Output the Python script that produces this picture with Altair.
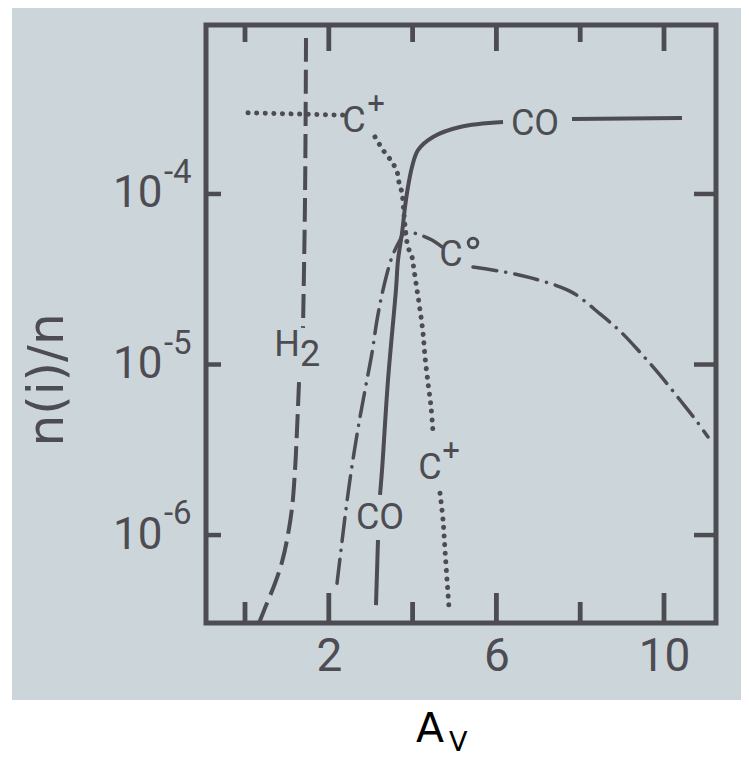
import altair as alt
import pandas as pd

# ---------------- data (A_V, fractional abundance n(i)/n) ----------------
# H2 (dashed), split around its label
h2_av_a = [1.456, 1.432, 1.384]
h2_n_a = [8.22e-4, 9.23e-5, 1.64e-5]
h2_av_b = [1.289, 1.241, 1.193, 1.122, 1.002, 0.883, 0.716, 0.477, 0.334]
h2_n_b = [7.89e-6, 4.13e-6, 2.40e-6, 1.44e-6, 9.35e-7, 6.95e-7, 5.22e-7, 3.73e-7, 3.05e-7]

# CO (solid)
co_av_a = [3.126, 3.174]
co_n_a = [3.88e-7, 9.35e-7]
co_av_b = [3.222, 3.270, 3.413, 3.604, 3.652, 3.747, 3.819, 3.890, 3.986, 4.129, 4.487, 5.131, 6.158]
co_n_b = [1.72e-6, 2.40e-6, 8.11e-6, 2.77e-5, 4.10e-5, 5.90e-5, 8.39e-5, 1.10e-4, 1.44e-4, 1.81e-4,
          2.16e-4, 2.47e-4, 2.64e-4]
co_av_c = [7.804, 10.430]
co_n_c = [2.75e-4, 2.79e-4]

# C+ (dotted)
cp_av_a = [0.072, 2.339]
cp_n_a = [2.99e-4, 2.90e-4]
cp_av_b = [3.103, 3.294, 3.508, 3.628, 3.675, 3.747, 3.795, 3.842, 3.890, 3.986, 4.033, 4.105,
           4.177, 4.248, 4.296, 4.368, 4.439, 4.487]
cp_n_b = [2.16e-4, 1.81e-4, 1.54e-4, 1.35e-4, 1.17e-4, 1.01e-4, 7.53e-5, 5.75e-5, 4.89e-5, 4.27e-5,
          3.58e-5, 2.74e-5, 2.09e-5, 1.53e-5, 1.11e-5, 7.78e-6, 5.64e-6, 3.96e-6]
cp_av_c = [4.654, 4.726, 4.773, 4.821, 4.869]
cp_n_c = [1.76e-6, 1.22e-6, 8.17e-7, 5.45e-7, 3.73e-7]

# C0 (dash-dot)
c0_av_a = [2.196, 2.291, 2.387, 2.494, 2.613, 2.745, 2.888, 3.031, 3.150, 3.294, 3.508, 3.699,
           3.819, 4.177, 4.463, 4.702]
c0_n_a = [5.22e-7, 8.17e-7, 1.28e-6, 2.02e-6, 3.15e-6, 4.92e-6, 7.59e-6, 1.17e-5, 1.82e-5, 2.74e-5,
          4.27e-5, 5.37e-5, 5.98e-5, 5.75e-5, 5.37e-5, 4.89e-5]
c0_av_b = [5.442, 6.325, 6.850, 7.518, 7.876, 8.473, 8.950, 9.427, 9.905, 10.382, 10.740, 11.050]
c0_n_b = [3.73e-5, 3.44e-5, 3.21e-5, 2.85e-5, 2.59e-5, 1.98e-5, 1.57e-5, 1.18e-5, 8.67e-6, 6.19e-6,
          4.79e-6, 3.76e-6]

# curve labels (A_V, n)
lab_text = ["C", "CO", "C", "C", "CO", "H", "2"]
lab_av = [2.601, 6.921, 4.916, 4.415, 3.222, 1.002, 1.551]
lab_n = [2.68e-4, 2.58e-4, 4.39e-5, 2.47e-6, 1.26e-6, 1.30e-5, 1.14e-5]
plus_av = [3.126, 4.916]
plus_n = [3.37e-4, 3.11e-6]
deg_av = [5.442]
deg_n = [5.16e-5]

# axes
x_major = [2, 6, 10]
x_minor = [0, 4, 8]
y_ticks = [1e-4, 1e-5, 1e-6]
y_exp = ["-4", "-5", "-6"]
x_domain = [-0.931, 11.241]
y_domain = [3.05e-7, 9.79e-4]

# ---------------- styling ----------------
INK = "#4c4c52"
BG = "#ccd6da"
FONT = "Roboto, sans-serif"
W, H = 510, 598
HALF_TICK = 2.4 * (x_domain[1] - x_domain[0]) / W   # half tick width in A_V units


def segs(*pairs):
    rows = []
    for s, (avs, ns) in enumerate(pairs):
        for i, (a, n) in enumerate(zip(avs, ns)):
            rows.append({"seg": s, "i": i, "av": a, "n": n})
    return pd.DataFrame(rows)


xs = alt.Scale(domain=x_domain, nice=False, zero=False)
ys = alt.Scale(type="log", domain=y_domain, nice=False)
xaxis = alt.Axis(values=x_major, ticks=False, domain=False, grid=False, labelFontSize=46,
                 labelColor=INK, labelFont=FONT, labelPadding=11, title=None)
yaxis = alt.Axis(values=y_ticks, labelExpr="'10'", ticks=False, domain=False, grid=False,
                 labelFontSize=44, labelColor=INK, labelFont=FONT, labelPadding=44, title=None)


def X(f="av:Q"):
    return alt.X(f, scale=xs, axis=xaxis)


def Y(f="n:Q"):
    return alt.Y(f, scale=ys, axis=yaxis)


one = pd.DataFrame({"k": [0]})
# white paper below and left of the photographed figure
white_b = alt.Chart(one).mark_rect(color="white").encode(
    x=alt.value(-200), x2=alt.value(W + 30), y=alt.value(675), y2=alt.value(H + 140))
white_l = alt.Chart(one).mark_rect(color="white").encode(
    x=alt.value(-200), x2=alt.value(-194), y=alt.value(-20), y2=alt.value(H + 140))


def line(df, **kw):
    return alt.Chart(df).mark_line(color=INK, interpolate="catmull-rom", **kw).encode(
        x=X(), y=Y(), detail="seg:N", order="i:Q")


h2 = line(segs((h2_av_a, h2_n_a), (h2_av_b, h2_n_b)), strokeWidth=4, strokeDash=[24, 8])
co = line(segs((co_av_a, co_n_a), (co_av_b, co_n_b), (co_av_c, co_n_c)), strokeWidth=4)
cp = line(segs((cp_av_a, cp_n_a), (cp_av_b, cp_n_b), (cp_av_c, cp_n_c)), strokeWidth=5,
          strokeDash=[0.1, 8.5], strokeCap="round")
c0 = line(segs((c0_av_a, c0_n_a), (c0_av_b, c0_n_b)), strokeWidth=3.5,
          strokeDash=[24, 9, 0.1, 9], strokeCap="round")

labels = alt.Chart(pd.DataFrame({"t": lab_text, "av": lab_av, "n": lab_n})).mark_text(
    font=FONT, fontSize=36, color=INK, baseline="middle", align="center").encode(
    x=X(), y=Y(), text="t:N")
plus = alt.Chart(pd.DataFrame({"av": plus_av, "n": plus_n})).mark_text(
    font="DejaVu Sans", fontSize=24, fontWeight="bold", color=INK, baseline="middle",
    align="center", text="+").encode(x=X(), y=Y())
deg = alt.Chart(pd.DataFrame({"av": deg_av, "n": deg_n})).mark_point(
    shape="circle", filled=False, color=INK, strokeWidth=3, size=90, opacity=1).encode(x=X(), y=Y())

tx_major = pd.DataFrame({"av": x_major})
tx_minor = pd.DataFrame({"av": x_minor})
ty = pd.DataFrame({"n": y_ticks})
ty_exp = pd.DataFrame({"n": y_ticks, "e": y_exp})


def xtick(df, y_a, y_b):
    return alt.Chart(df).transform_calculate(
        a0=f"datum.av - {HALF_TICK}", a1=f"datum.av + {HALF_TICK}"
    ).mark_rect(color=INK, opacity=1).encode(
        x=alt.X("a0:Q", scale=xs, axis=xaxis), x2="a1:Q",
        y=alt.value(y_a), y2=alt.value(y_b))


def rule(df):
    return alt.Chart(df).mark_rule(color=INK, strokeWidth=4.5)


ticks = [
    xtick(tx_major, H - 30, H),
    xtick(tx_minor, H - 21, H),
    xtick(tx_major, 0, 26),
    xtick(tx_minor, 0, 17),
    rule(ty).encode(y=Y(), x=alt.value(0), x2=alt.value(15)),
    rule(ty).encode(y=Y(), x=alt.value(W - 22), x2=alt.value(W)),
]

exps = alt.Chart(ty_exp).mark_text(font=FONT, fontSize=33, color=INK, align="left",
                                   baseline="middle", dy=-21).encode(
    y=Y(), x=alt.value(-42), text="e:N")

ytitle = alt.Chart(one).mark_text(font="DejaVu Sans", fontSize=50, color=INK, angle=270,
                                  baseline="middle", align="center", text="n(i)/n").encode(
    x=alt.value(-158), y=alt.value(355))
a_txt = alt.Chart(one).mark_text(font="DejaVu Sans", fontSize=41, color="#000000",
                                 baseline="alphabetic", align="center", text="A").encode(
    x=alt.value(224), y=alt.value(717))
v_txt = alt.Chart(one).mark_text(font="DejaVu Sans", fontSize=27, color="#000000",
                                 baseline="alphabetic", align="left", text="V").encode(
    x=alt.value(243), y=alt.value(726))

chart = alt.layer(h2, co, cp, c0, *ticks, labels, plus, deg, exps, ytitle,
                  white_b, white_l, a_txt, v_txt).properties(
    width=W, height=H,
    padding={"left": 198, "top": 17, "right": 25, "bottom": 135},
    autosize=alt.AutoSizeParams(type="none"),
).configure(background=BG).configure_view(stroke=INK, strokeWidth=5)

chart.save("out.html", embed_options={"renderer": "svg", "actions": False})
